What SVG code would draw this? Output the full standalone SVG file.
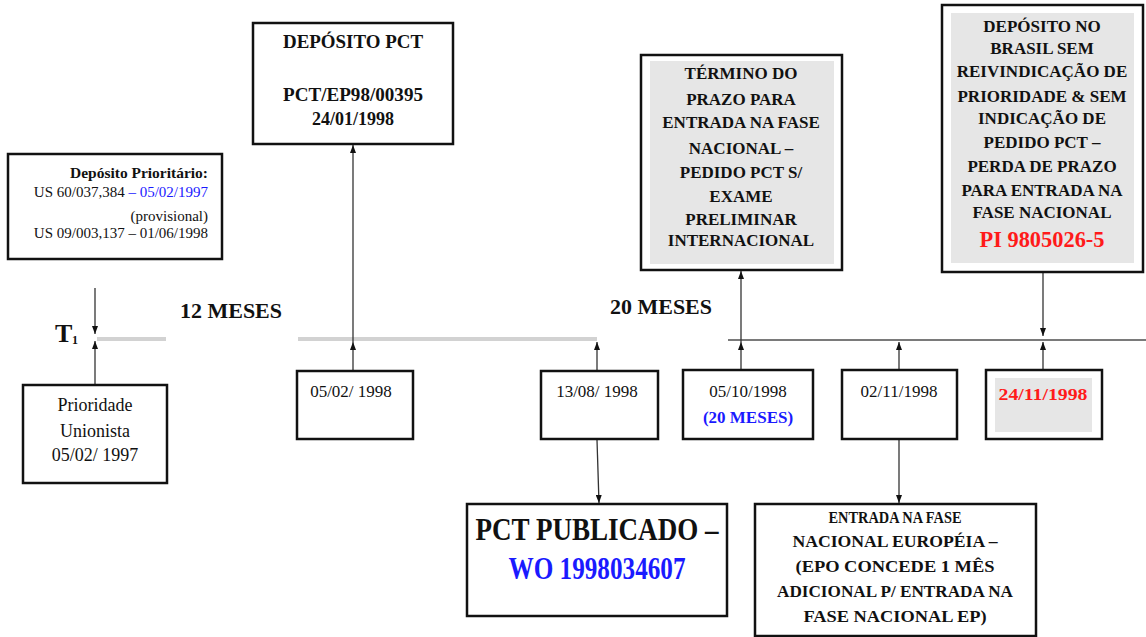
<svg xmlns="http://www.w3.org/2000/svg" width="1146" height="637" viewBox="0 0 1146 637">
<style>
text{font-family:"Liberation Serif","Times New Roman",serif;fill:#111}
.b{font-weight:bold}
.box{fill:#fff;stroke:#111;stroke-width:2.5}
.gray{fill:#e6e6e6;stroke:none}
.c{text-anchor:middle}
.blue{fill:#1a1aff}
.red{fill:#ff1a1a}
.conn{stroke:#333;stroke-width:1.3;fill:none}
</style>
<defs>
<marker id="ah" viewBox="0 0 8 6" refX="8" refY="3" markerWidth="8" markerHeight="6" markerUnits="userSpaceOnUse" orient="auto">
<path d="M0,0 L8,3 L0,6 z" fill="#111"/>
</marker>
</defs>

<g id="timeline">
<line x1="97" y1="339" x2="166" y2="339" stroke="#d2d2d2" stroke-width="4"/>
<line x1="298" y1="339" x2="597" y2="339" stroke="#d2d2d2" stroke-width="4"/>
<line x1="728" y1="340" x2="1146" y2="340" stroke="#7a7a7a" stroke-width="2"/>
<text class="b" x="180" y="318" font-size="22" textLength="102" lengthAdjust="spacingAndGlyphs">12 MESES</text>
<text class="b" x="610" y="314" font-size="22" textLength="102" lengthAdjust="spacingAndGlyphs">20 MESES</text>
<text class="b" x="55" y="342" font-size="26">T</text>
<text class="b" x="72" y="344" font-size="12">1</text>
</g>

<g id="connectors">
<path class="conn" d="M95,288 V334" marker-end="url(#ah)"/>
<path class="conn" d="M95,385 V341" marker-end="url(#ah)"/>
<path class="conn" d="M353,371 V342" marker-end="url(#ah)"/>
<path class="conn" d="M353,342 V145" marker-end="url(#ah)"/>
<path class="conn" d="M597,371 V342" marker-end="url(#ah)"/>
<path class="conn" d="M597,440 L599,503" marker-end="url(#ah)"/>
<path class="conn" d="M741,370 V342" marker-end="url(#ah)"/>
<path class="conn" d="M741,342 V271" marker-end="url(#ah)"/>
<path class="conn" d="M899,370 V342" marker-end="url(#ah)"/>
<path class="conn" d="M899,440 V503" marker-end="url(#ah)"/>
<path class="conn" d="M1043,370 V342" marker-end="url(#ah)"/>
<path class="conn" d="M1043,272 V336" marker-end="url(#ah)"/>
</g>

<g id="deposito-prioritario">
<rect class="box" x="8" y="154" width="214" height="105"/>
<text class="b" x="208" y="178" font-size="15" text-anchor="end" textLength="138" lengthAdjust="spacingAndGlyphs">Depósito Prioritário:</text>
<text x="208" y="197" font-size="15" text-anchor="end">US 60/037,384 <tspan class="blue">– 05/02/1997</tspan></text>
<text x="208" y="221" font-size="15" text-anchor="end">(provisional)</text>
<text x="208" y="238" font-size="15" text-anchor="end">US 09/003,137 – 01/06/1998</text>
</g>

<g id="prioridade">
<rect class="box" x="23" y="385" width="144" height="98"/>
<text class="c" x="95" y="411" font-size="18">Prioridade</text>
<text class="c" x="95" y="437" font-size="18">Unionista</text>
<text class="c" x="95" y="461" font-size="18">05/02/ 1997</text>
</g>

<g id="deposito-pct">
<rect class="box" x="253" y="23" width="200" height="121"/>
<text class="b c" x="353" y="48" font-size="18" textLength="140" lengthAdjust="spacingAndGlyphs">DEPÓSITO PCT</text>
<text class="b c" x="353" y="101" font-size="18" textLength="140" lengthAdjust="spacingAndGlyphs">PCT/EP98/00395</text>
<text class="b c" x="353" y="125" font-size="18">24/01/1998</text>
</g>

<g id="d-050298">
<rect class="box" x="297" y="371" width="116" height="68"/>
<text class="c" x="351" y="397" font-size="17">05/02/ 1998</text>
</g>

<g id="d-130898">
<rect class="box" x="541" y="371" width="117" height="68"/>
<text class="c" x="597" y="397" font-size="17">13/08/ 1998</text>
</g>

<g id="d-051098">
<rect class="box" x="683" y="370" width="130" height="69"/>
<text class="c" x="748" y="397" font-size="17">05/10/1998</text>
<text class="b c blue" x="748" y="423" font-size="17">(20 MESES)</text>
</g>

<g id="d-021198">
<rect class="box" x="842" y="370" width="115" height="69"/>
<text class="c" x="899" y="397" font-size="17">02/11/1998</text>
</g>

<g id="d-241198">
<rect class="box" x="986" y="370" width="116" height="69"/>
<rect class="gray" x="995" y="378" width="97" height="54"/>
<text class="b c red" x="1043" y="400" font-size="17" textLength="89" lengthAdjust="spacingAndGlyphs">24/11/1998</text>
</g>

<g id="termino">
<rect class="box" x="641" y="55" width="201" height="215"/>
<rect class="gray" x="650" y="61" width="184" height="203"/>
<g class="b c" font-size="17">
<text class="b c" x="741" y="79">TÉRMINO DO</text>
<text class="b c" x="741" y="105">PRAZO PARA</text>
<text class="b c" x="741" y="128">ENTRADA NA FASE</text>
<text class="b c" x="741" y="154">NACIONAL –</text>
<text class="b c" x="741" y="178">PEDIDO PCT S/</text>
<text class="b c" x="741" y="202">EXAME</text>
<text class="b c" x="741" y="225">PRELIMINAR</text>
<text class="b c" x="741" y="246">INTERNACIONAL</text>
</g>
</g>

<g id="deposito-brasil">
<rect class="box" x="942" y="5" width="201" height="267"/>
<rect class="gray" x="951" y="13" width="183" height="250"/>
<g font-size="17">
<text class="b c" x="1042" y="32">DEPÓSITO NO</text>
<text class="b c" x="1042" y="54">BRASIL  SEM</text>
<text class="b c" x="1042" y="77">REIVINDICAÇÃO DE</text>
<text class="b c" x="1042" y="102">PRIORIDADE &amp; SEM</text>
<text class="b c" x="1042" y="124">INDICAÇÃO DE</text>
<text class="b c" x="1042" y="148">PEDIDO PCT –</text>
<text class="b c" x="1042" y="172">PERDA  DE PRAZO</text>
<text class="b c" x="1042" y="196">PARA ENTRADA NA</text>
<text class="b c" x="1042" y="218">FASE NACIONAL</text>
</g>
<text class="b c red" x="1042" y="247" font-size="23" textLength="125" lengthAdjust="spacingAndGlyphs">PI 9805026-5</text>
</g>

<g id="pct-publicado">
<rect class="box" x="467" y="504" width="260" height="112"/>
<text class="b c" x="597" y="540" font-size="32" textLength="243" lengthAdjust="spacingAndGlyphs">PCT PUBLICADO –</text>
<text class="b c blue" x="597" y="579" font-size="32" textLength="177" lengthAdjust="spacingAndGlyphs">WO 1998034607</text>
</g>

<g id="entrada-ep">
<rect class="box" x="755" y="504" width="281" height="132"/>
<g font-size="16">
<text class="b c" x="895" y="523" textLength="133" lengthAdjust="spacingAndGlyphs">ENTRADA NA FASE</text>
<text class="b c" x="895" y="547" textLength="205" lengthAdjust="spacingAndGlyphs">NACIONAL  EUROPÉIA –</text>
<text class="b c" x="895" y="572" textLength="199" lengthAdjust="spacingAndGlyphs">(EPO CONCEDE 1 MÊS</text>
<text class="b c" x="895" y="597" textLength="236" lengthAdjust="spacingAndGlyphs">ADICIONAL P/ ENTRADA NA</text>
<text class="b c" x="895" y="622" textLength="183" lengthAdjust="spacingAndGlyphs">FASE NACIONAL EP)</text>
</g>
</g>
</svg>
